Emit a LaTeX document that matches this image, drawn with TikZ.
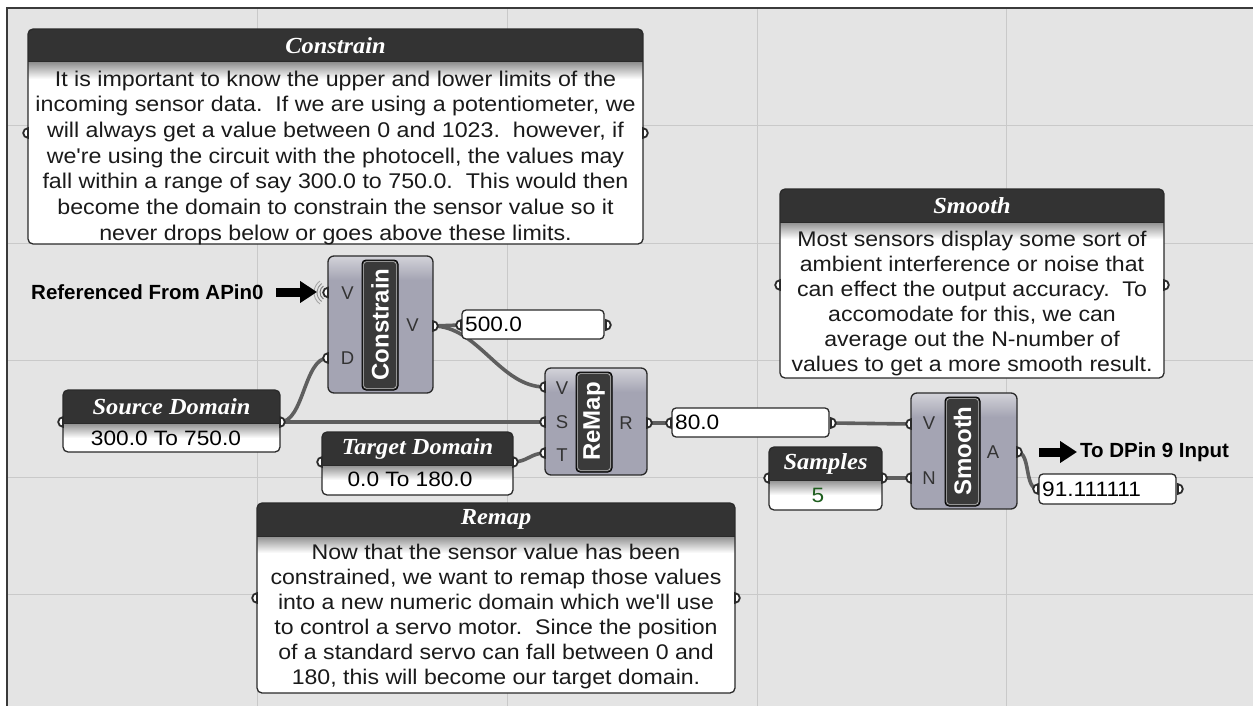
\documentclass[tikz,border=0pt]{standalone}
\usepackage{fontspec}
\setmainfont{Liberation Sans}
\newfontfamily\ghsans{Liberation Sans}[FakeStretch=1.09]
\newfontfamily\ghserif{Liberation Serif}[FakeStretch=1.06]
\usetikzlibrary{arrows.meta,fit}
\definecolor{ghbg}{HTML}{E4E4E4}
\definecolor{ghgrid}{HTML}{C9C9C9}
\definecolor{ghframe}{HTML}{3A3A3A}
\definecolor{ghdark}{HTML}{333333}
\definecolor{ghedge}{HTML}{2A2A2A}
\definecolor{ghshade}{HTML}{8E8E8E}
\definecolor{ghwire}{HTML}{5E5E5E}
\definecolor{ghcomptop}{HTML}{D3D3D9}
\definecolor{ghcomp}{HTML}{A4A4B3}
\definecolor{ghlabel}{HTML}{3A3A3A}
\definecolor{ghtext}{HTML}{1A1A1A}
\definecolor{ghgreen}{HTML}{1E5E1E}

% titled object: name, x1, y1, x2, y2, title-bar bottom, title, shade depth
\newcommand\ghtitled[8]{%
  \node[fit={(#2,#3) (#4,#5)}, inner sep=0pt] (#1) {};
  \begin{scope}
    \clip[rounded corners=5pt] (#2,#3) rectangle (#4,#5);
    \fill[white] (#2,#3) rectangle (#4,#5);
    \fill[ghdark] (#2,#3) rectangle (#4,#6);
    \shade[top color=ghshade, bottom color=white] (#2,#6) rectangle (#4,{#6+#8});
  \end{scope}
  \draw[ghedge, line width=1.3pt, rounded corners=5pt] (#2,#3) rectangle (#4,#5);
  \draw[ghedge, line width=1pt] (#2,#6) -- (#4,#6);
  \node[ghtitle] (#1-title) at ({(#2+#4)/2},{(#3+#6)/2}) {#7};%
}
% component: name, x1, y1, x2, y2, label box x1, label box x2, label
\newcommand\ghcomp[8]{%
  \node[fit={(#2,#3) (#4,#5)}, inner sep=0pt] (#1) {};
  \begin{scope}
    \clip[rounded corners=6pt] (#2,#3) rectangle (#4,#5);
    \fill[ghcomp] (#2,#3) rectangle (#4,#5);
    \shade[top color=ghcomptop, bottom color=ghcomp] (#2,#3) rectangle (#4,{#3+24});
  \end{scope}
  \draw[ghedge, line width=1.3pt, rounded corners=6pt] (#2,#3) rectangle (#4,#5);
  \draw[fill=ghlabel, draw=black, line width=1pt, rounded corners=4pt] (#6,{#3+4}) rectangle (#7,{#5-3});
  \draw[white!55!gray, line width=0.6pt, rounded corners=3pt] ({#6+1.6},{#3+5.6}) rectangle ({#7-1.6},{#5-4.6});
  \node[complabel, rotate=90] (#1-label) at ({(#6+#7)/2},{(#3+#5)/2}) {#8};%
}
% value panel: name, x1, y1, x2, y2, text
\newcommand\ghvalue[6]{%
  \node[fit={(#2,#3) (#4,#5)}, inner sep=0pt, fill=white, draw=ghedge, line width=1.3pt, rounded corners=4pt] (#1) {};
  \node[valtext, anchor=west] (#1-text) at ({#2+3},{(#3+#5)/2}) {#6};%
}

\tikzset{
  ghtitle/.style={font=\ghserif\bfseries\itshape\fontsize{23}{25}\selectfont, text=white, inner sep=0pt},
  ghbody/.style={font=\ghsans\fontsize{21.3}{25.7}\selectfont, align=center, inner sep=0pt, text=ghtext, anchor=north},
  ghbodywide/.style={ghbody, font=\ghsans\fontsize{21.2}{25}\selectfont},
  valtext/.style={font=\ghsans\fontsize{20.8}{22}\selectfont, inner sep=0pt, text=black},
  complabel/.style={font=\bfseries\fontsize{24}{26}\selectfont, text=white, inner sep=0pt},
  portlabel/.style={font=\fontsize{18.5}{20}\selectfont, text=ghdark, inner sep=0pt},
  notetext/.style={font=\bfseries\fontsize{20.5}{22}\selectfont, inner sep=0pt, text=black},
  wire/.style={draw=ghwire, line width=3.6pt},
  bigarrow/.style={draw=black, line width=9pt, -{Triangle[length=17pt,width=21pt]}},
  pics/inport/.style={code={\filldraw[fill=white, draw=ghedge, line width=1.8pt] (0,4.8) arc[start angle=90, end angle=270, radius=4.8] -- cycle;}},
  pics/outport/.style={code={\filldraw[fill=white, draw=ghedge, line width=1.8pt] (0,-4.8) arc[start angle=-90, end angle=90, radius=4.8] -- cycle;}},
}

\begin{document}
\begin{tikzpicture}[x=1pt,y=-1pt]
\useasboundingbox (0,0) rectangle (1253,706);
% canvas
\fill[white] (0,0) rectangle (1253,706);
\fill[ghbg] (7,8) rectangle (1253,706);
\foreach \gx in {257,507,757,1006} \draw[ghgrid, line width=1pt] (\gx,8) -- (\gx,706);
\foreach \gy in {126,243,360,477,594} \draw[ghgrid, line width=1pt] (7,\gy) -- (1253,\gy);
\draw[ghframe, line width=2pt] (7,706) -- (7,8) -- (1253,8);

% port coordinates
\coordinate (cpan-i) at (28,133);
\coordinate (cpan-o) at (643,133);
\coordinate (span-i) at (780,285);
\coordinate (span-o) at (1164,285);
\coordinate (rpan-i) at (257,598);
\coordinate (rpan-o) at (735,598);
\coordinate (src-i) at (63,422);
\coordinate (src-o) at (280,422);
\coordinate (tgt-i) at (322,462);
\coordinate (tgt-o) at (513,462);
\coordinate (smp-i) at (769,478);
\coordinate (smp-o) at (882,478);
\coordinate (cn-v) at (328,292.5);
\coordinate (cn-d) at (328,358);
\coordinate (cn-o) at (433,326);
\coordinate (rm-v) at (545,387);
\coordinate (rm-s) at (545,422);
\coordinate (rm-t) at (545,453);
\coordinate (rm-r) at (647,423);
\coordinate (sm-v) at (911,424);
\coordinate (sm-n) at (911,478);
\coordinate (sm-a) at (1017,452);
\coordinate (v500-i) at (461,325);
\coordinate (v500-o) at (606,325);
\coordinate (v80-i) at (671,423);
\coordinate (v80-o) at (831,423);
\coordinate (v91-i) at (1038,489);
\coordinate (v91-o) at (1178,489);

% wires
\draw[wire] (src-o) -- (rm-s);
\draw[wire] (src-o) .. controls +(24,0) and +(-24,0) .. (cn-d);
\draw[wire] (cn-o) -- (v500-i);
\draw[wire] (cn-o) .. controls +(45,0) and +(-45,0) .. (rm-v);
\draw[wire] (tgt-o) .. controls +(14,0) and +(-14,0) .. (rm-t);
\draw[wire] (rm-r) -- (v80-i);
\draw[wire] (v80-o) -- (sm-v);
\draw[wire] (smp-o) -- (sm-n);
\draw[wire] (sm-a) .. controls +(14,0) and +(-14,0) .. (v91-i);

% group notes
\ghtitled{cpan}{28}{29}{643}{244}{62}{Constrain}{17}
\node[ghbody] (cpan-body) at (335.5,70.5) {It is important to know the upper and lower limits of the\\
incoming sensor data.\ \ If we are using a potentiometer, we\\
will always get a value between 0 and 1023.\ \ however, if\\
we're using the circuit with the photocell, the values may\\
fall within a range of say 300.0 to 750.0.\ \ This would then\\
become the domain to constrain the sensor value so it\\
never drops below or goes above these limits.};

\ghtitled{span}{780}{189}{1164}{378}{222}{Smooth}{17}
\node[ghbodywide] (span-body) at (972,230.5) {Most sensors display some sort of\\
ambient interference or noise that\\
can effect the output accuracy.\ \ To\\
accomodate for this, we can\\
average out the N-number of\\
values to get a more smooth result.};

\ghtitled{rpan}{257}{503}{735}{693}{536}{Remap}{17}
\node[ghbodywide] (rpan-body) at (496,544) {Now that the sensor value has been\\
constrained, we want to remap those values\\
into a new numeric domain which we'll use\\
to control a servo motor.\ \ Since the position\\
of a standard servo can fall between 0 and\\
180, this will become our target domain.};

% parameters
\ghtitled{src}{63}{390}{280}{452}{423}{Source Domain}{15}
\node[valtext] (src-val) at (166,438.5) {300.0 To 750.0};
\ghtitled{tgt}{322}{432}{513}{495}{465}{Target Domain}{15}
\node[valtext] (tgt-val) at (410,479) {0.0 To 180.0};
\ghtitled{smp}{769}{447}{882}{510}{480}{Samples}{15}
\node[valtext, text=ghgreen] (smp-val) at (818,495) {5};

% components
\ghcomp{cn}{328}{256}{433}{393}{362}{398}{Constrain}
\node[portlabel] (cn-lv) at (347.5,293) {V};
\node[portlabel] (cn-ld) at (347.5,358) {D};
\node[portlabel] (cn-lo) at (412.5,325) {V};
\ghcomp{rm}{545}{368}{647}{475}{576}{612}{ReMap}
\node[portlabel] (rm-lv) at (562,388) {V};
\node[portlabel] (rm-ls) at (562,422) {S};
\node[portlabel] (rm-lt) at (562,455) {T};
\node[portlabel] (rm-lr) at (626,423) {R};
\ghcomp{sm}{911}{393}{1017}{509}{945}{980}{Smooth}
\node[portlabel] (sm-lv) at (929,423.5) {V};
\node[portlabel] (sm-ln) at (929,478.5) {N};
\node[portlabel] (sm-la) at (993,452) {A};

% value panels
\ghvalue{v500}{462}{310}{604}{339}{500.0}
\ghvalue{v80}{672}{408}{829}{437}{80.0}
\ghvalue{v91}{1039}{474}{1176}{504}{91.111111}

% ports
\foreach \p in {cpan-i,span-i,rpan-i,src-i,tgt-i,smp-i,cn-v,cn-d,rm-v,rm-s,rm-t,sm-v,sm-n,v500-i,v80-i,v91-i}
  \pic at (\p) {inport};
\foreach \p in {cpan-o,span-o,rpan-o,src-o,tgt-o,smp-o,cn-o,rm-r,sm-a,v500-o,v80-o,v91-o}
  \pic at (\p) {outport};

% wireless reference marks
\foreach \r/\c in {8/55,11/45,14/35}
  \draw[black!\c, line width=0.9pt] (cn-v) ++(125:\r) arc[start angle=125, end angle=235, radius=\r];

% notes
\node[notetext, anchor=west] (refnote) at (31,292) {Referenced From APin0};
\coordinate (refa1) at (276,292);
\coordinate (refa2) at (317,292);
\draw[bigarrow] (refa1) -- (refa2);
\coordinate (outa1) at (1039,452);
\coordinate (outa2) at (1077,452);
\draw[bigarrow] (outa1) -- (outa2);
\node[notetext, anchor=west] (outnote) at (1080,452) {To DPin 9 Input};
\end{tikzpicture}
\end{document}
